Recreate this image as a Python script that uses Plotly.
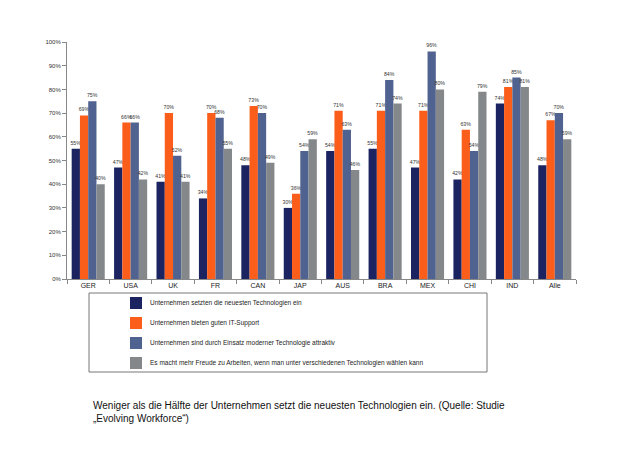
import plotly.graph_objects as go

categories = ["GER", "USA", "UK", "FR", "CAN", "JAP", "AUS", "BRA", "MEX", "CHI", "IND", "Alle"]
series_names = [
    "Unternehmen setzten die neuesten Technologien ein",
    "Unternehmen bieten guten IT-Support",
    "Unternehmen sind durch Einsatz moderner Technologie attraktiv",
    "Es macht mehr Freude zu Arbeiten, wenn man unter verschiedenen Technologien wählen kann",
]
s1 = [55, 47, 41, 34, 48, 30, 54, 55, 47, 42, 74, 48]
s2 = [69, 66, 70, 70, 73, 36, 71, 71, 71, 63, 81, 67]
s3 = [75, 66, 52, 68, 70, 54, 63, 84, 96, 54, 85, 70]
s4 = [40, 42, 41, 55, 49, 59, 46, 74, 80, 79, 81, 59]
series_values = [s1, s2, s3, s4]
colors = ["#1b2461", "#fb5d1a", "#50628f", "#85888a"]
y_ticks = [0, 10, 20, 30, 40, 50, 60, 70, 80, 90, 100]
y_tick_labels = [f"{v}%" for v in y_ticks]
caption = ("Weniger als die Hälfte der Unternehmen setzt die neuesten Technologien ein. (Quelle: Studie"
           "<br>„Evolving Workforce“)")

FONT = "Liberation Sans, Arial, sans-serif"

# page layout (the page body has an 8px margin)
OFF = 8
PX0, PX1 = 67, 576   # plot area, page pixels
PY0, PY1 = 42, 279
W, H = 621 - OFF, 466 - OFF


def px(x):
    return (x - PX0) / (PX1 - PX0)


def py(y):
    return (PY1 - y) / (PY1 - PY0)


fig = go.Figure()
for name, vals, col in zip(series_names, series_values, colors):
    fig.add_trace(go.Bar(
        x=categories, y=vals, name=name,
        marker=dict(color=col, line=dict(width=0)),
        text=[f"{v}%" for v in vals],
        textposition="outside",
        constraintext="none",
        cliponaxis=False,
        textfont=dict(size=5.2, color="#333333", family=FONT),
    ))

fig.update_layout(
    width=W, height=H,
    margin=dict(l=PX0 - OFF, r=621 - PX1, t=PY0 - OFF, b=466 - PY1, pad=0),
    paper_bgcolor="white", plot_bgcolor="white",
    barmode="group", bargap=0.22, bargroupgap=0,
    font=dict(family=FONT, size=7, color="#333333"),
    showlegend=False,
    xaxis=dict(
        showline=True, linecolor="#888888", linewidth=1,
        ticks="outside", tickson="boundaries", ticklen=4, tickcolor="#888888",
        tickfont=dict(size=7, color="#222222"),
        showgrid=False, zeroline=False,
    ),
    yaxis=dict(
        range=[0, 100], tickvals=y_ticks, ticktext=y_tick_labels,
        showline=True, linecolor="#888888", linewidth=1,
        ticks="outside", ticklen=4, tickcolor="#888888",
        tickfont=dict(size=6, color="#333333"),
        showgrid=False, zeroline=False,
    ),
)

# legend frame
fig.add_shape(type="rect", xref="paper", yref="paper",
              x0=px(89), x1=px(487), y0=py(372), y1=py(293),
              line=dict(color="#777777", width=1), fillcolor="rgba(0,0,0,0)")

# legend entries
for i, (name, col) in enumerate(zip(series_names, colors)):
    cy = 303 + 20 * i
    fig.add_shape(type="rect", xref="paper", yref="paper",
                  x0=px(130), x1=px(142), y0=py(cy + 6), y1=py(cy - 6),
                  line=dict(width=0), fillcolor=col)
    fig.add_annotation(text=name, xref="paper", yref="paper",
                       x=px(148), xanchor="left", y=py(cy), yanchor="middle",
                       showarrow=False,
                       font=dict(size=6.5, color="#222222", family=FONT))

fig.add_annotation(
    text=caption, xref="paper", yref="paper",
    x=px(91), xanchor="left",
    y=py(398), yanchor="top",
    showarrow=False, align="left",
    font=dict(size=10, color="#111111", family=FONT),
)

fig.write_html("out.html")
